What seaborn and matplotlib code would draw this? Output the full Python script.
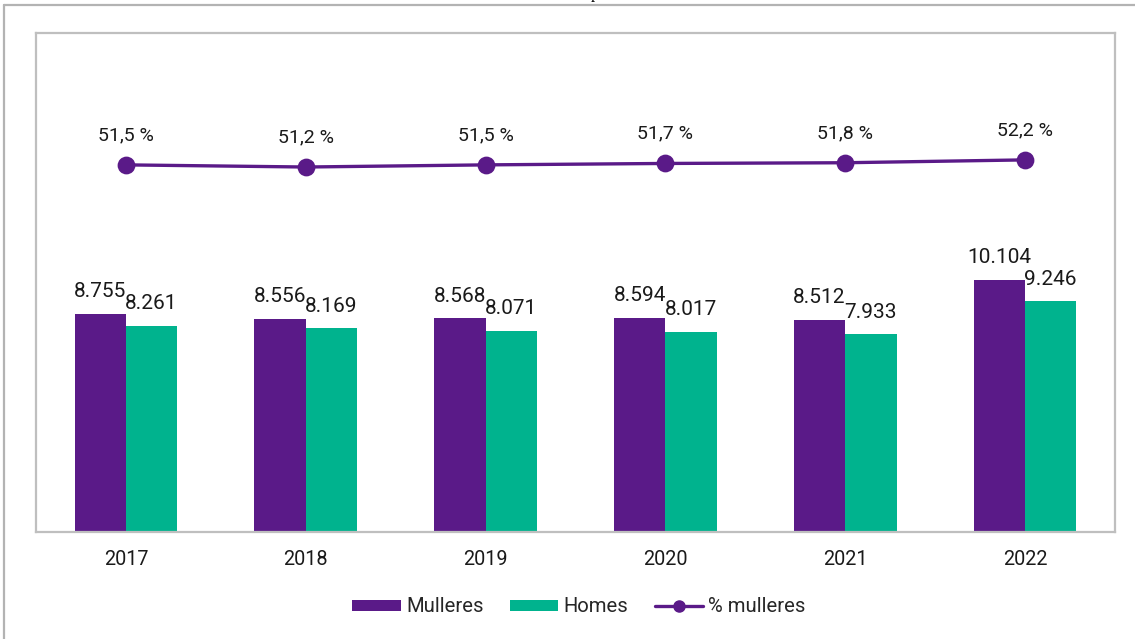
import matplotlib
matplotlib.use("Agg")
import matplotlib.pyplot as plt
from matplotlib.lines import Line2D
from matplotlib.patches import Patch
import seaborn as sns
import pandas as pd

years = ["2017", "2018", "2019", "2020", "2021", "2022"]
mulleres = [8755, 8556, 8568, 8594, 8512, 10104]
homes = [8261, 8169, 8071, 8017, 7933, 9246]
pct_mulleres = [51.5, 51.2, 51.5, 51.7, 51.8, 52.2]
series_names = ["Mulleres", "Homes", "% mulleres"]

purple = "#5a1a88"
teal = "#00b38e"
frame = "#bfbfbf"

sns.set_theme(style="white")
plt.rcParams["font.family"] = ["Roboto", "DejaVu Sans"]

def fmt_int(v):
    return f"{v:,}".replace(",", ".")

def fmt_pct(v):
    return f"{v:.1f}".replace(".", ",") + " %"

df = pd.DataFrame({
    "year": years * 2,
    "value": mulleres + homes,
    "sexo": [series_names[0]] * len(years) + [series_names[1]] * len(years),
})

fig = plt.figure(figsize=(11.35, 6.39), dpi=100)
ax = fig.add_axes([36 / 1135, 1 - 532 / 639, (1115 - 36) / 1135, (532 - 33) / 639])

sns.barplot(data=df, x="year", y="value", hue="sexo", order=years,
            hue_order=series_names[:2], palette=[purple, teal],
            width=0.57, gap=0, saturation=1, legend=False, ax=ax,
            edgecolor="none", linewidth=0)

ax.set_ylim(0, 20000)
ax.set_xlim(-0.5, len(years) - 0.5)
ax.set_xlabel("")
ax.set_ylabel("")
ax.set_yticks([])
ax.tick_params(axis="x", length=0, pad=13, labelsize=14.3, colors="#1a1a1a")
for s in ax.spines.values():
    s.set_color(frame)
    s.set_linewidth(1.6)

for cont in ax.containers:
    for bar in cont:
        h = bar.get_height()
        ax.annotate(fmt_int(int(round(h))),
                    (bar.get_x() + bar.get_width() / 2, h),
                    xytext=(0, 9), textcoords="offset points",
                    ha="center", va="bottom", fontsize=15, color="#1a1a1a")

ax2 = ax.twinx()
sns.pointplot(x=years, y=pct_mulleres, order=years, color=purple,
              markers="o", markersize=11, linewidth=2.4, ax=ax2, errorbar=None)
ax2.set_ylim(0, 70)
ax2.set_yticks([])
ax2.set_xlim(-0.5, len(years) - 0.5)
for s in ax2.spines.values():
    s.set_visible(False)
for i, v in enumerate(pct_mulleres):
    ax2.annotate(fmt_pct(v), (i, v), xytext=(0, 15), textcoords="offset points",
                 ha="center", va="bottom", fontsize=14, color="#1a1a1a")

handles = [
    Patch(facecolor=purple, edgecolor="none"),
    Patch(facecolor=teal, edgecolor="none"),
    Line2D([0], [0], color=purple, lw=2.4, marker="o", markersize=8),
]
fig.legend(handles, series_names, loc="center", bbox_to_anchor=(579 / 1135, 1 - 607 / 639),
           ncol=3, frameon=False, fontsize=14.6, handlelength=2.4, handleheight=0.45,
           handletextpad=0.25, columnspacing=1.3, borderpad=0)

# chart title, mostly above the visible area
fig.text(595 / 1135, 1 + 1.5 / 639, "p", family="Liberation Serif", fontsize=12,
         ha="center", va="baseline", color="black")

# outer border of the figure panel
fig.add_artist(Line2D([3.5 / 1135, 1.0], [1 - 4.5 / 639, 1 - 4.5 / 639],
                      transform=fig.transFigure, color="#b3b3b3", lw=1.6))
fig.add_artist(Line2D([3.5 / 1135, 3.5 / 1135], [0.0, 1 - 4.5 / 639],
                      transform=fig.transFigure, color="#b3b3b3", lw=1.6))

fig.savefig("out.png", dpi=100)
